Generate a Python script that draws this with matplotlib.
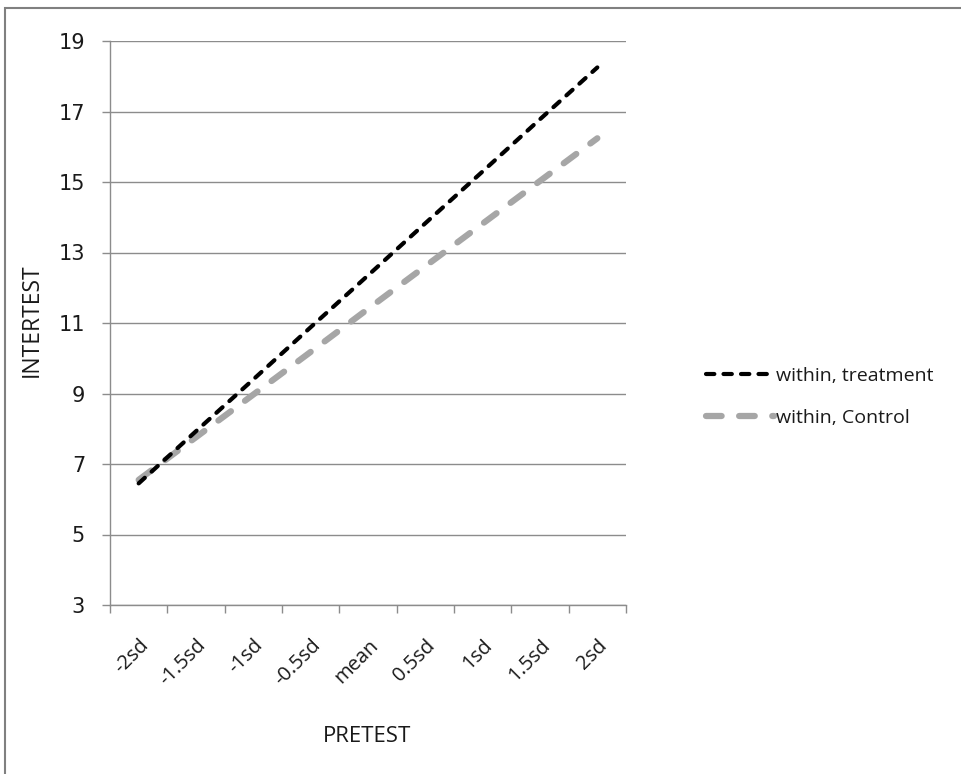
import matplotlib
matplotlib.use("Agg")
import matplotlib.pyplot as plt
from matplotlib.patches import Rectangle

categories = ["-2sd", "-1.5sd", "-1sd", "-0.5sd", "mean", "0.5sd", "1sd", "1.5sd", "2sd"]
treatment = [6.45, 7.93, 9.40, 10.88, 12.35, 13.83, 15.30, 16.78, 18.25]
control = [6.55, 7.76, 8.97, 10.18, 11.40, 12.61, 13.82, 15.03, 16.24]
yticks = [3, 5, 7, 9, 11, 13, 15, 17, 19]
series_names = ["within, treatment", "within, Control"]

W, H = 961, 774
fig = plt.figure(figsize=(W / 100, H / 100), dpi=100)
fig.patch.set_facecolor("white")

# outer chart border
fig.patches.append(Rectangle((5 / W, -0.05), 1.1, 1 - 8 / H + 0.05, transform=fig.transFigure,
                             fill=False, edgecolor="#808080", linewidth=1.5))

ax = fig.add_axes([110 / W, 1 - 605 / H, (626 - 110) / W, (605 - 41) / H])
n = len(categories)
xs = [i + 0.5 for i in range(n)]

ax.plot(xs, treatment, color="black", linewidth=3.0, dashes=(2.0, 2.2),
        dash_capstyle="round", solid_capstyle="round", label=series_names[0], zorder=3)
ax.plot(xs, control, color="#A6A6A6", linewidth=4.5, dashes=(2.5, 2.8),
        dash_capstyle="round", solid_capstyle="round", label=series_names[1], zorder=2)

ax.set_xlim(0, n)
ax.set_ylim(3, 19)
ax.set_yticks(yticks)
ax.set_yticklabels([str(v) for v in yticks], fontfamily="DejaVu Sans", fontsize=15, color="#1a1a1a")
ax.grid(axis="y", color="#8c8c8c", linewidth=1.0)
ax.set_axisbelow(True)

ax.set_xticks(range(n + 1))
ax.set_xticklabels([""] * (n + 1))
ax.set_xticks(xs, minor=True)
ax.set_xticklabels(categories, minor=True, rotation=45, ha="right", va="top",
                   rotation_mode="anchor", fontfamily="Open Sans", fontsize=14.5, color="#1a1a1a")
ax.tick_params(axis="x", which="minor", length=0, pad=22)
ax.tick_params(axis="x", which="major", length=6, color="#8c8c8c", width=1.0)
ax.tick_params(axis="y", length=6, color="#8c8c8c", width=1.0, pad=12)

for s in ["top", "right"]:
    ax.spines[s].set_visible(False)
for s in ["left", "bottom"]:
    ax.spines[s].set_color("#8c8c8c")
    ax.spines[s].set_linewidth(1.0)

fig.text(367 / W, 1 - 737 / H, "PRETEST", ha="center", va="center",
         fontfamily="Open Sans", fontsize=16, color="#1a1a1a")
fig.text(32 / W, 1 - 320 / H, "INTERTEST", ha="center", va="center", rotation=90,
         fontfamily="Open Sans", fontsize=16.5, color="#1a1a1a")

leg = fig.legend(loc="center left", bbox_to_anchor=(688 / W, 1 - 397 / H), frameon=False,
                 handlelength=3.5, handletextpad=0.1, labelspacing=1.25,
                 prop={"family": "Open Sans", "size": 14})
for t in leg.get_texts():
    t.set_color("#1a1a1a")

fig.savefig("out.png", dpi=100)
